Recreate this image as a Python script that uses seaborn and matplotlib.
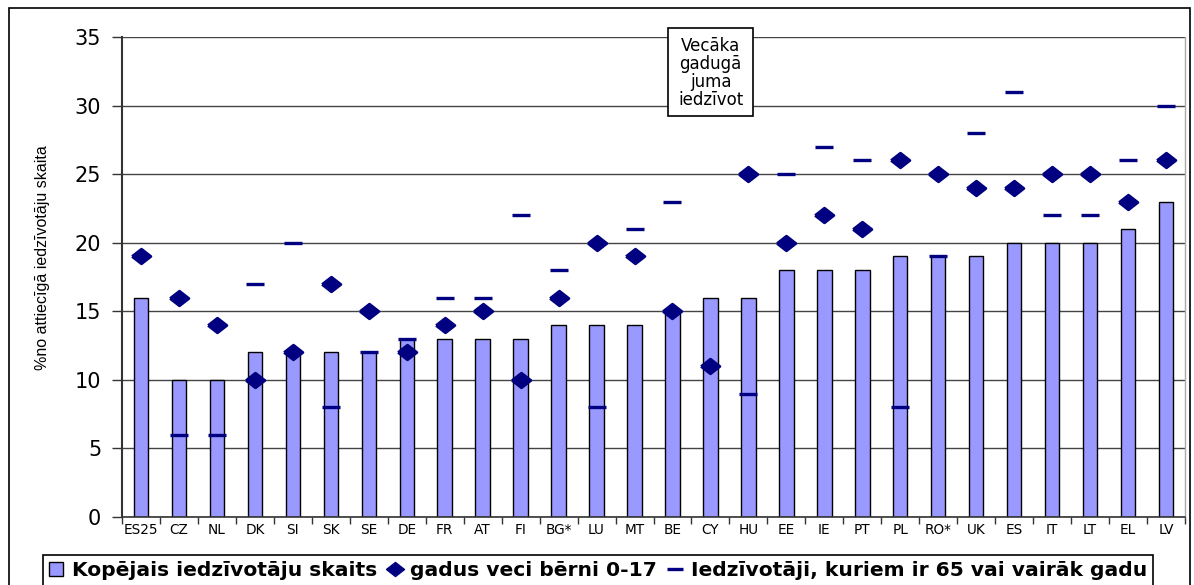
import numpy as np
import pandas as pd
import matplotlib
matplotlib.use("Agg")
import matplotlib.pyplot as plt
from matplotlib.patches import Rectangle, Patch
from matplotlib.lines import Line2D
from matplotlib.ticker import MultipleLocator, FixedLocator
import seaborn as sns

countries = ["ES25", "CZ", "NL", "DK", "SI", "SK", "SE", "DE", "FR", "AT", "FI", "BG*", "LU", "MT",
             "BE", "CY", "HU", "EE", "IE", "PT", "PL", "RO*", "UK", "ES", "IT", "LT", "EL", "LV"]
total = [16, 10, 10, 12, 12, 12, 12, 13, 13, 13, 13, 14, 14, 14,
         15, 16, 16, 18, 18, 18, 19, 19, 19, 20, 20, 20, 21, 23]
children = [19, 16, 14, 10, 12, 17, 15, 12, 14, 15, 10, 16, 20, 19,
            15, 11, 25, 20, 22, 21, 26, 25, 24, 24, 25, 25, 23, 26]
elderly = [19, 6, 6, 17, 20, 8, 12, 13, 16, 16, 22, 18, 8, 21,
           23, 51, 9, 25, 27, 26, 8, 19, 28, 31, 22, 22, 26, 30]

legend_labels = ["Kopējais iedzīvotāju skaits", "gadus veci bērni 0-17",
                 "Iedzīvotāji, kuriem ir 65 vai vairāk gadu"]
note_text = "Vecāka\ngadugā\njuma\niedzīvot"
ylabel = "%no attiecīgā iedzīvotāju skaita"

df = pd.DataFrame({"country": countries, "total": total,
                   "children": children, "elderly": elderly})

sns.set_theme(style="white")
plt.rcParams["font.family"] = ["DejaVu Sans"]
plt.rcParams["text.color"] = "black"
plt.rcParams["axes.labelcolor"] = "black"
plt.rcParams["xtick.color"] = "black"
plt.rcParams["ytick.color"] = "black"

W, H = 1194, 585
fig = plt.figure(figsize=(W / 100, H / 100), dpi=100)
ax = fig.add_axes([122 / W, 1 - 517 / H, (1185 - 122) / W, (517 - 37) / H])

bar_col = "#9999FF"
navy = "#000080"

sns.barplot(data=df, x="country", y="total", color=bar_col, width=0.38,
            edgecolor="black", linewidth=1.0, saturation=1, ax=ax, zorder=2)

sns.pointplot(data=df, x="country", y="elderly", color=navy, linestyle="none",
              marker="_", markersize=13, markeredgewidth=2.4, errorbar=None,
              ax=ax, zorder=3)

diamond = [(-1, 0), (0, 0.78), (1, 0), (0, -0.78), (-1, 0)]
sns.pointplot(data=df, x="country", y="children", color=navy, linestyle="none",
              marker=diamond, markersize=13.5, errorbar=None, ax=ax, zorder=4)

n = len(countries)
ax.set_xlim(-0.5, n - 0.5)
ax.set_ylim(0, 35)
ax.yaxis.set_major_locator(MultipleLocator(5))
ax.grid(axis="y", color="#444444", linewidth=1.0, zorder=0)
ax.set_axisbelow(True)

ax.set_xlabel("")
ax.set_ylabel(ylabel, fontsize=11.5, family=["Liberation Sans", "DejaVu Sans"])
ax.yaxis.set_label_coords(-0.068, 0.54)

ax.tick_params(axis="y", which="major", direction="out", length=7, width=1,
               color="#333333", labelsize=15, pad=8, left=True)
ax.tick_params(axis="x", which="major", length=0, labelsize=9.8, pad=4)
ax.xaxis.set_minor_locator(FixedLocator(np.arange(-0.5, n, 1.0)))
ax.tick_params(axis="x", which="minor", direction="out", length=5, width=1,
               color="#333333", bottom=True)

ax.spines["top"].set_visible(False)
ax.spines["left"].set_color("#333333")
ax.spines["left"].set_linewidth(1.5)
ax.spines["bottom"].set_color("#333333")
ax.spines["bottom"].set_linewidth(1.2)
ax.spines["right"].set_color("#aaaaaa")
ax.spines["right"].set_linewidth(1.0)

# outer frame
fig.patches.append(Rectangle((9 / W, -0.05), (1190 - 9) / W, 1.05 - 8 / H,
                             transform=fig.transFigure, fill=False,
                             edgecolor="black", linewidth=1.2))

# note box
fig.patches.append(Rectangle((668 / W, 1 - 116 / H), 85 / W, 88 / H,
                             transform=fig.transFigure, facecolor="white",
                             edgecolor="black", linewidth=1.2, zorder=5))
fig.text(710.5 / W, 1 - 73 / H, note_text, ha="center", va="center",
         fontsize=12, linespacing=1.0, zorder=6)

handles = [
    Patch(facecolor=bar_col, edgecolor="black", linewidth=1.0),
    Line2D([], [], color=navy, marker=diamond, markersize=13, linestyle="none"),
    Line2D([], [], color=navy, marker="_", markersize=12, markeredgewidth=2.4,
           linestyle="none"),
]
leg = fig.legend(handles, legend_labels, loc="upper center",
                 bbox_to_anchor=(598 / W, 1 - 555 / H), ncol=3, frameon=True,
                 fancybox=False, edgecolor="black", framealpha=1,
                 prop={"weight": "bold", "size": 14.6},
                 handlelength=0.7, handleheight=0.7, handletextpad=0.4,
                 columnspacing=0.55, borderpad=0.3, borderaxespad=0)
leg.get_frame().set_linewidth(1.2)

fig.savefig("out.png", dpi=100)
